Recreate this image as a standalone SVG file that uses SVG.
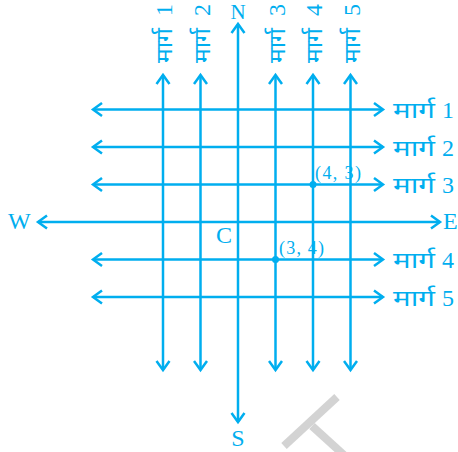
<svg xmlns="http://www.w3.org/2000/svg" width="458" height="452" viewBox="0 0 458 452">
<defs>
<marker id="ah" markerUnits="userSpaceOnUse" markerWidth="14" markerHeight="16" refX="11" refY="8" orient="auto">
<path d="M2,1.5 L11,8 L2,14.5" fill="none" stroke="#00aeef" stroke-width="2.5"/>
</marker>
<style>
.ln{stroke:#00aeef;stroke-width:2.5;fill:none;marker-end:url(#ah)}
.t{fill:#00aeef;font-family:"Liberation Serif","Noto Sans Devanagari","Noto Serif Devanagari",serif;font-size:24px}
.d{font-size:23px}
.s{fill:#00aeef;font-family:"Liberation Serif",serif;font-size:18px}
.wm{stroke:#d3d3d3;stroke-width:8;fill:none}
</style>
</defs>
<rect width="458" height="452" fill="#fff"/>
<g id="watermark">
<line class="wm" x1="337" y1="397" x2="284" y2="446"/>
<line class="wm" x1="312" y1="426" x2="345" y2="456"/>
</g>
<g id="connectors">
<line class="ln" x1="238" y1="222" x2="238" y2="24"/>
<line class="ln" x1="238" y1="222" x2="238" y2="422"/>
<line class="ln" x1="238" y1="222" x2="440" y2="222"/>
<line class="ln" x1="238" y1="222" x2="38" y2="222"/>
<line class="ln" x1="163" y1="222" x2="163" y2="75"/><line class="ln" x1="163" y1="222" x2="163" y2="370"/>
<line class="ln" x1="200.5" y1="222" x2="200.5" y2="75"/><line class="ln" x1="200.5" y1="222" x2="200.5" y2="370"/>
<line class="ln" x1="275.5" y1="222" x2="275.5" y2="75"/><line class="ln" x1="275.5" y1="222" x2="275.5" y2="370"/>
<line class="ln" x1="313" y1="222" x2="313" y2="75"/><line class="ln" x1="313" y1="222" x2="313" y2="370"/>
<line class="ln" x1="350.5" y1="222" x2="350.5" y2="75"/><line class="ln" x1="350.5" y1="222" x2="350.5" y2="370"/>
<line class="ln" x1="238" y1="109.5" x2="93" y2="109.5"/><line class="ln" x1="238" y1="109.5" x2="383" y2="109.5"/>
<line class="ln" x1="238" y1="147" x2="93" y2="147"/><line class="ln" x1="238" y1="147" x2="383" y2="147"/>
<line class="ln" x1="238" y1="184.5" x2="93" y2="184.5"/><line class="ln" x1="238" y1="184.5" x2="383" y2="184.5"/>
<line class="ln" x1="238" y1="259.5" x2="93" y2="259.5"/><line class="ln" x1="238" y1="259.5" x2="383" y2="259.5"/>
<line class="ln" x1="238" y1="297" x2="93" y2="297"/><line class="ln" x1="238" y1="297" x2="383" y2="297"/>
</g>
<g id="compass">
<text class="t" x="238" y="19" text-anchor="middle" style="font-size:21px">N</text>
<text class="t" x="238" y="446" text-anchor="middle">S</text>
<text class="t" x="443" y="229">E</text>
<text class="t" x="8" y="229">W</text>
<text class="t" x="216" y="243">C</text>
</g>
<g id="roads-h">
<text class="t" x="393" y="118"><tspan class="d" textLength="42" lengthAdjust="spacingAndGlyphs">मार्ग</tspan><tspan x="442">1</tspan></text>
<text class="t" x="393" y="156"><tspan class="d" textLength="42" lengthAdjust="spacingAndGlyphs">मार्ग</tspan><tspan x="442">2</tspan></text>
<text class="t" x="393" y="193"><tspan class="d" textLength="42" lengthAdjust="spacingAndGlyphs">मार्ग</tspan><tspan x="442">3</tspan></text>
<text class="t" x="393" y="268"><tspan class="d" textLength="42" lengthAdjust="spacingAndGlyphs">मार्ग</tspan><tspan x="442">4</tspan></text>
<text class="t" x="393" y="306"><tspan class="d" textLength="42" lengthAdjust="spacingAndGlyphs">मार्ग</tspan><tspan x="442">5</tspan></text>
</g>
<g id="roads-v">
<text class="t" transform="translate(172,63) rotate(-90)"><tspan class="d" textLength="35" lengthAdjust="spacingAndGlyphs">मार्ग</tspan><tspan x="47">1</tspan></text>
<text class="t" transform="translate(210,63) rotate(-90)"><tspan class="d" textLength="35" lengthAdjust="spacingAndGlyphs">मार्ग</tspan><tspan x="47">2</tspan></text>
<text class="t" transform="translate(285,63) rotate(-90)"><tspan class="d" textLength="35" lengthAdjust="spacingAndGlyphs">मार्ग</tspan><tspan x="47">3</tspan></text>
<text class="t" transform="translate(322,63) rotate(-90)"><tspan class="d" textLength="35" lengthAdjust="spacingAndGlyphs">मार्ग</tspan><tspan x="47">4</tspan></text>
<text class="t" transform="translate(360,63) rotate(-90)"><tspan class="d" textLength="35" lengthAdjust="spacingAndGlyphs">मार्ग</tspan><tspan x="47">5</tspan></text>
</g>
<g id="point-43">
<circle cx="313" cy="184.5" r="3.5" fill="#00aeef"/>
<text class="s" x="315" y="179" textLength="46">(4, 3)</text>
</g>
<g id="point-34">
<circle cx="275.5" cy="259.5" r="3.5" fill="#00aeef"/>
<text class="s" x="279" y="254" textLength="45">(3, 4)</text>
</g>
</svg>
